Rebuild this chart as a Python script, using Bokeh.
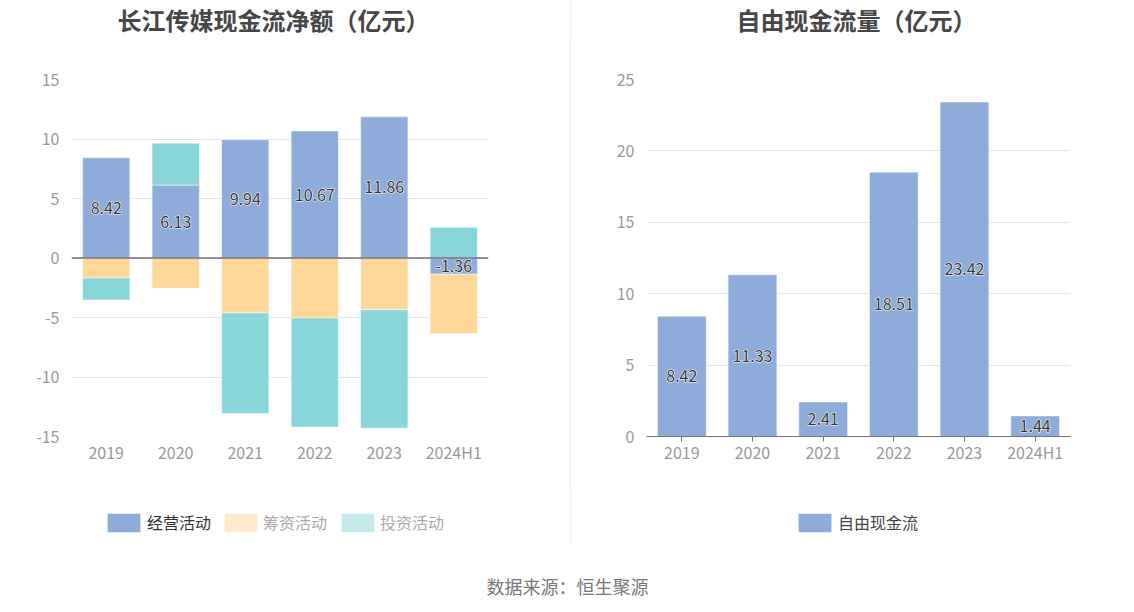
from bokeh.plotting import figure
from bokeh.models import FactorRange, Range1d, Span, Legend, LegendItem, Label, Div
from bokeh.layouts import row, column
from bokeh.embed import file_html
from bokeh.resources import INLINE
from bokeh.core.properties import value

# ---------------- data ----------------
categories = ["2019", "2020", "2021", "2022", "2023", "2024H1"]
operating = [8.42, 6.13, 9.94, 10.67, 11.86, -1.36]      # 经营活动
financing = [-1.68, -2.55, -4.62, -5.05, -4.34, -5.00]   # 筹资活动
investing = [-1.85, 3.52, -8.44, -9.16, -9.96, 2.58]     # 投资活动
free_cash_flow = [8.42, 11.33, 2.41, 18.51, 23.42, 1.44]  # 自由现金流

series_names = ["经营活动", "筹资活动", "投资活动"]
fcf_name = "自由现金流"
left_title = "长江传媒现金流净额（亿元）"
right_title = "自由现金流量（亿元）"
source_text = "数据来源：恒生聚源"
left_ticks = [-15, -10, -5, 0, 5, 10, 15]
left_tick_labels = ["-15", "-10", "-5", "0", "5", "10", "15"]
right_ticks = [0, 5, 10, 15, 20, 25]
right_tick_labels = ["0", "5", "10", "15", "20", "25"]

# ---------------- style ----------------
FONT = "Noto Sans CJK SC"
BLUE = "#8EACD9"
ORANGE = "#FFD899"
TEAL = "#88D6D9"
ORANGE_L = "#FFEBCC"
TEAL_L = "#C3EBEC"
AXIS_GRAY = "#6E7079"
LABEL_GRAY = "#999999"
GRID = "#E0E6F1"
DIV_COLOR = "#EEEEEE"
PAGE_W = 1133
HEAD_H = 40
MID_H = 450
BOT_H = 121


def strip(height):
    p = figure(width=PAGE_W, height=height, x_range=Range1d(0, PAGE_W), y_range=Range1d(0, height),
               output_backend="svg", toolbar_location=None, min_border=0,
               x_axis_location=None, y_axis_location=None)
    p.outline_line_color = None
    p.grid.visible = False
    p.segment(x0=[570.5], y0=[0], x1=[570.5], y1=[height], line_color=DIV_COLOR, line_width=1)
    return p


# ---------------- title strip ----------------
p0 = strip(HEAD_H)
for tx, txt in ((273, left_title), (856, right_title)):
    p0.add_layout(Label(x=tx, y=HEAD_H - 19, text=txt, text_align="center",
                        text_baseline="middle", text_font=FONT, text_font_size="24px",
                        text_font_style="bold", text_color="#464646"))


def make_fig(width, yr, ticks, tick_labels, mbl, mbr):
    p = figure(width=width, height=MID_H,
               x_range=FactorRange(*categories),
               y_range=Range1d(yr[0], yr[1]),
               output_backend="svg", toolbar_location=None,
               min_border_left=mbl, min_border_right=mbr,
               min_border_top=79 - HEAD_H, min_border_bottom=MID_H - (79 - HEAD_H) - 357)
    p.outline_line_color = None
    p.xgrid.grid_line_color = None
    p.ygrid.grid_line_color = GRID
    p.yaxis.ticker = ticks
    p.yaxis.major_label_overrides = {t: s for t, s in zip(ticks, tick_labels)}
    p.yaxis.axis_line_color = None
    p.yaxis.major_tick_line_color = None
    p.yaxis.major_tick_out = 0
    p.yaxis.major_tick_in = 0
    p.yaxis.minor_tick_line_color = None
    p.yaxis.major_label_standoff = 12
    for ax in (p.xaxis, p.yaxis):
        ax.major_label_text_font = FONT
        ax.major_label_text_font_size = "16px"
        ax.major_label_text_color = LABEL_GRAY
    return p


def value_labels(p, xs, ys, vals):
    texts = [f"{v:.2f}" for v in vals]
    common = dict(text_align="center", text_baseline="middle",
                  text_font=value(FONT), text_font_size="16px")
    p.text(x=xs, y=ys, text=texts, text_color="white",
           text_outline_color="white", **common)
    p.text(x=xs, y=ys, text=texts, text_color="#333333", **common)


# ---------------- left chart ----------------
p1 = make_fig(570, (-15, 15), left_ticks, left_tick_labels, 71, 82)
p1.xaxis.axis_line_color = None
p1.xaxis.major_tick_line_color = None
p1.xaxis.major_tick_out = 0
p1.xaxis.major_tick_in = 0
p1.xaxis.major_label_standoff = 3

n = len(categories)
pos = [0.0] * n
neg = [0.0] * n
stacks = []
for vals in (operating, financing, investing):
    bottoms, tops = [], []
    for i, v in enumerate(vals):
        if v >= 0:
            b = pos[i]
            t = b + v
            pos[i] = t
        else:
            b = neg[i]
            t = b + v
            neg[i] = t
        bottoms.append(b)
        tops.append(t)
    stacks.append((bottoms, tops))

for (bottoms, tops), color in zip(stacks, (BLUE, ORANGE, TEAL)):
    p1.vbar(x=categories, bottom=bottoms, top=tops, width=0.68,
            fill_color=color, line_color="white", line_width=0.7, line_alpha=0.7)

p1.add_layout(Span(location=0, dimension="width", line_color=AXIS_GRAY, line_width=1.5))

op_mid = [(b + t) / 2 for b, t in zip(*stacks[0])]
value_labels(p1, categories, op_mid, operating)

# ---------------- right chart ----------------
p2 = make_fig(562, (0, 25), right_ticks, right_tick_labels, 75, 63)
p2.xaxis.axis_line_color = AXIS_GRAY
p2.xaxis.major_tick_line_color = AXIS_GRAY
p2.xaxis.major_tick_out = 5
p2.xaxis.major_tick_in = 0
p2.xaxis.major_label_standoff = -2

p2.vbar(x=categories, top=free_cash_flow, width=0.69,
        fill_color=BLUE, line_color="white", line_width=0.7, line_alpha=0.7)
value_labels(p2, categories, [v / 2 for v in free_cash_flow], free_cash_flow)

divider = Div(width=1, height=MID_H, margin=0, styles={"background-color": DIV_COLOR})

# ---------------- legends, divider tail & source (bottom strip) ----------------
p3 = strip(BOT_H)
p3.segment(x0=[570.5], y0=[0], x1=[570.5], y1=[BOT_H - 52], line_color="white", line_width=2)

# swatch renderers for the legends, parked outside the visible range
sw_op = p3.vbar(x=[-50], bottom=[-60], top=[-50], width=1, fill_color=BLUE, line_color=None)
sw_fin = p3.vbar(x=[-50], bottom=[-60], top=[-50], width=1, fill_color=ORANGE_L, line_color=None)
sw_inv = p3.vbar(x=[-50], bottom=[-60], top=[-50], width=1, fill_color=TEAL_L, line_color=None)
sw_fcf = p3.vbar(x=[-50], bottom=[-60], top=[-50], width=1, fill_color=BLUE, line_color=None)


def make_legend(items, loc, color, standoff):
    return Legend(items=items, location=loc, orientation="horizontal",
                  glyph_width=41, glyph_height=23, label_height=23,
                  label_standoff=standoff, spacing=10, padding=0, margin=0,
                  border_line_color=None, background_fill_alpha=0,
                  label_text_font=FONT, label_text_font_size="16px",
                  label_text_color=color)


legend_y = BOT_H - 44
p3.add_layout(make_legend([LegendItem(label=series_names[0], renderers=[sw_op])],
                          (103, legend_y), "#333333", 3))
p3.add_layout(make_legend([LegendItem(label=series_names[1], renderers=[sw_fin]),
                           LegendItem(label=series_names[2], renderers=[sw_inv])],
                          (220, legend_y), "#AAAAAA", 2))
p3.add_layout(make_legend([LegendItem(label=fcf_name, renderers=[sw_fcf])],
                          (794, legend_y), "#444444", 3))

p3.add_layout(Label(x=567, y=26, text=source_text, text_align="center",
                    text_baseline="middle", text_font=FONT, text_font_size="18px",
                    text_color="#777777"))

layout = column(p0, row(p1, divider, p2), p3)
open("out.html", "w").write(file_html(layout, INLINE))
